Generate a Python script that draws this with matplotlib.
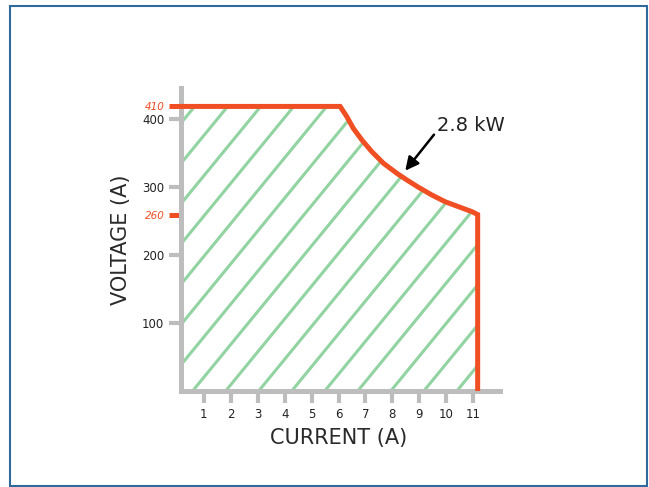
import numpy as np
import matplotlib.pyplot as plt
from matplotlib.patches import Polygon, Rectangle

# Данные: кривая мощности (ток, напряжение)
current = [0.15, 6.06, 6.31, 6.55, 6.87, 7.24, 7.67, 8.17, 8.54, 8.97, 9.47,
           9.96, 10.46, 10.96, 11.17, 11.17]
voltage = [418.5, 418.5, 403.4, 386.3, 369.1, 351.9, 334.9, 320.1, 310.3, 299.6,
           288.2, 278.4, 271.0, 263.7, 259.5, 0]

x_ticks = [1, 2, 3, 4, 5, 6, 7, 8, 9, 10, 11]
y_ticks = [100, 200, 300, 400]
red_labels = ["410", "260"]
power_label = "2.8 kW"
arrow_tip = (8.48, 324)
arrow_tail = (9.57, 376.5)

red = "#f04e23"
grey = "#bdbdbd"
green = "#92d3a2"

plt.rcParams["font.family"] = "DejaVu Sans"

fig = plt.figure(figsize=(6.49, 4.87), dpi=100)
ax = fig.add_axes([177 / 649, 1 - 391 / 487, 323 / 649, 303 / 487])
ax.set_xlim(0, 12.0)
ax.set_ylim(0, 445.6)

# Область под кривой со штриховкой
poly_pts = [(current[0], 0)] + list(zip(current, voltage))
region = Polygon(poly_pts, closed=True, facecolor="none", edgecolor="none")
ax.add_patch(region)
slope = 48.3
for x0 in np.arange(0.58 - 9 * 1.227, 11.5, 1.227):
    xs = np.array([x0, x0 + 450 / slope])
    line, = ax.plot(xs, slope * (xs - x0), color=green, lw=2.2, zorder=1)
    line.set_clip_path(region)

# Красная кривая
ax.plot(current, voltage, color=red, lw=3.6, zorder=3, solid_joinstyle="miter")

# Оси
for side in ["top", "right"]:
    ax.spines[side].set_visible(False)
ax.spines["left"].set_position(("data", 0.15))
ax.spines["bottom"].set_bounds(0.15, 12.0)
for side in ["left", "bottom"]:
    ax.spines[side].set_color(grey)
    ax.spines[side].set_linewidth(3.6)
    ax.spines[side].set_capstyle("projecting")
    ax.spines[side].set_zorder(2)

ax.set_xticks(x_ticks)
ax.set_yticks(y_ticks)
ax.tick_params(which="major", direction="out", length=8.5, width=3, color=grey,
               labelsize=8.5, labelcolor="#222222", pad=3.5)

# Красные отметки 410 и 260
ax.set_yticks([voltage[0], voltage[-2]], minor=True)
ax.set_yticklabels(red_labels, minor=True, fontstyle="italic")
ax.tick_params(which="minor", axis="y", direction="out", length=8.5, width=3.6,
               color=red, labelsize=7.5, labelcolor=red, pad=3.5)
ax.tick_params(which="minor", axis="x", length=0)

ax.set_xlabel("CURRENT (A)", fontsize=15, color="#2a2a2a", labelpad=5)
ax.set_ylabel("VOLTAGE (A)", fontsize=15, color="#2a2a2a", labelpad=8)

# Подпись мощности со стрелкой
ax.annotate(power_label, xy=arrow_tip, xytext=(arrow_tail[0] + 0.08, arrow_tail[1] + 14),
            fontsize=14, color="#222222", ha="left", va="center",
            arrowprops=dict(arrowstyle="-|>", color="black", lw=1.8,
                            mutation_scale=20, shrinkA=0, shrinkB=0,
                            relpos=(0, 0.2)))

# Рамка вокруг рисунка
fig.patches.append(Rectangle((10 / 649, 1 - 486 / 487), 637 / 649, 480 / 487,
                             transform=fig.transFigure, fill=False,
                             edgecolor="#2f6a9c", lw=1.5))

fig.savefig("out.png", dpi=100)
